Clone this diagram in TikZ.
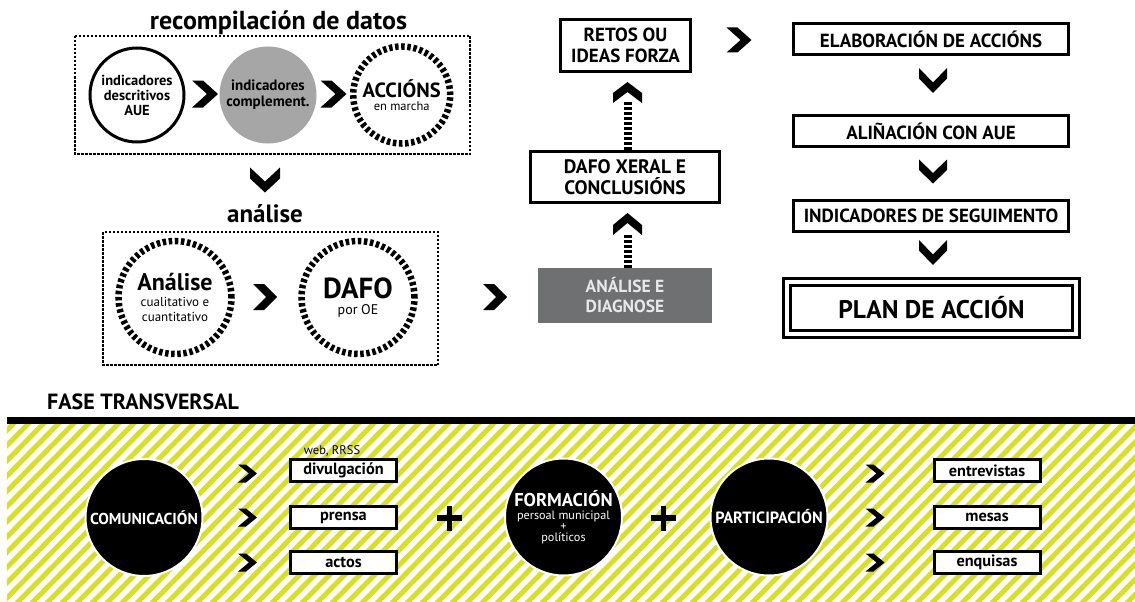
\documentclass[tikz,border=0pt]{standalone}
\usepackage{fontspec}
\setmainfont{PT Sans}
\usetikzlibrary{calc}
\definecolor{ylw}{RGB}{217,224,33}
\definecolor{cgray}{RGB}{166,166,166}
\definecolor{dgray}{RGB}{111,112,114}
\definecolor{ltxt}{RGB}{232,232,232}
% chevrons: centre x, centre y, width, height, thickness
\newcommand\chevR[5]{\fill (#1-#3/2,#2-#4/2) -- (#1-#3/2+#5,#2-#4/2) -- (#1+#3/2,#2) -- (#1-#3/2+#5,#2+#4/2) -- (#1-#3/2,#2+#4/2) -- (#1+#3/2-#5,#2) -- cycle;}
\newcommand\chevD[5]{\fill (#1-#3/2,#2-#4/2) -- (#1,#2+#4/2-#5) -- (#1+#3/2,#2-#4/2) -- (#1+#3/2,#2-#4/2+#5) -- (#1,#2+#4/2) -- (#1-#3/2,#2-#4/2+#5) -- cycle;}
\newcommand\chevU[5]{\fill (#1-#3/2,#2+#4/2) -- (#1,#2-#4/2+#5) -- (#1+#3/2,#2+#4/2) -- (#1+#3/2,#2+#4/2-#5) -- (#1,#2-#4/2) -- (#1-#3/2,#2+#4/2-#5) -- cycle;}
\begin{document}
\begin{tikzpicture}[x=1pt,y=-1pt,
  stepbox/.style={draw, line width=3pt, fill=white, inner sep=0pt, align=center,
    font=\bfseries\fontsize{19}{21}\selectfont, minimum width=275pt, minimum height=31pt},
  midbox/.style={draw, line width=3pt, fill=white, inner sep=0pt, align=center,
    font=\bfseries\fontsize{19.5}{21}\selectfont},
  dotbox/.style={draw, line width=2.5pt, dash pattern=on 2.5pt off 1.5pt},
  ringnode/.style={circle, draw, line width=6.5pt, dash pattern=on 3.5pt off 2.6pt, inner sep=0pt, align=center},
  disc/.style={circle, fill=black, draw=white, line width=2pt, inner sep=0pt, minimum size=117pt, text=white, align=center},
  smallbox/.style={draw, line width=3pt, fill=white, inner sep=0pt, minimum width=106pt, minimum height=22pt,
    font=\bfseries\fontsize{16.3}{17}\selectfont},
  shaft/.style={line width=8pt, dash pattern=on 3pt off 2pt},
  stripe/.style={ylw, line width=5pt},
  plus/.style={line width=5.5pt}
]
\useasboundingbox (0,0) rectangle (1135,602);

% ---------- titles
\node[font=\bfseries\fontsize{26}{28}\selectfont, anchor=base, inner sep=0pt] (t1) at (278.5,30) {recompilación de datos};
\node[font=\bfseries\fontsize{25}{26}\selectfont, anchor=base, inner sep=0pt] (t2) at (265,222) {análise};

% ---------- dotted frames
\draw[dotbox] (75,36) rectangle (470,154);
\draw[dotbox] (103,232) rectangle (438,365);

% ---------- recompilación circles
\node[circle, draw, line width=3pt, minimum size=94pt, inner sep=0pt, align=center,
  font=\bfseries\fontsize{14.5}{15}\selectfont] (c1) at (137,95) {indicadores\\descritivos\\AUE};
\node[circle, fill=cgray, minimum size=97pt, inner sep=0pt, align=center,
  font=\bfseries\fontsize{15}{16}\selectfont] (c2) at (268,95) {indicadores\\complement.};
\node[ringnode, minimum size=97pt, font=\fontsize{12.5}{13}\selectfont] (c3) at (401.7,95)
  {{\bfseries\fontsize{20.5}{21}\selectfont ACCIÓNS}\\en marcha};
\chevR{205}{94}{26}{27}{11}
\chevR{333.5}{94}{26}{27}{11}
\chevD{265}{180}{30}{25}{11}

% ---------- análise circles
\node[ringnode, minimum size=113pt, font=\fontsize{13}{15}\selectfont] (a1) at (175,297.5)
  {{\bfseries\fontsize{24}{24}\selectfont Análise}\\[1pt]cualitativo e\\cuantitativo};
\node[ringnode, minimum size=113pt, font=\fontsize{14}{14}\selectfont] (a2) at (358,297.5)
  {{\bfseries\fontsize{29}{28}\selectfont DAFO}\\[2pt]por OE};
\chevR{265}{297}{24}{26}{11}
\chevR{495}{297}{24}{26}{11}

% ---------- middle column
\node[fill=dgray, minimum width=174pt, minimum height=55pt, inner sep=0pt, align=center,
  text=ltxt, font=\bfseries\fontsize{17.5}{20}\selectfont] (ad) at (625,295.5) {ANÁLISE E\\DIAGNOSE};
\node[midbox, minimum width=189pt, minimum height=51pt] (dx) at (625,177) {DAFO XERAL E\\CONCLUSIÓNS};
\node[midbox, minimum width=130pt, minimum height=52pt, font=\bfseries\fontsize{19}{20.5}\selectfont] (rt) at (625.5,45.5) {RETOS OU\\IDEAS FORZA};
\draw[shaft] ($(ad.north)+(2.5,0)$) -- ($(dx.south)+(2.5,30)$);
\chevU{627.5}{224}{29}{22}{10}
\draw[shaft] ($(dx.north)+(2.5,0)$) -- ($(rt.south)+(2,29)$);
\chevU{627.5}{92.5}{29}{21}{10}
\chevR{739}{40}{25}{25}{11}

% ---------- right column
\node[stepbox] (e1) at (931,39) {ELABORACIÓN DE ACCIÓNS};
\node[stepbox] (e2) at (931,131) {ALIÑACIÓN CON AUE};
\node[stepbox] (e3) at (931,216) {INDICADORES DE SEGUIMENTO};
\node[draw, double, double distance=4pt, line width=3pt, fill=white, inner sep=0pt,
  minimum width=289pt, minimum height=52pt, font=\bfseries\fontsize{25.5}{27}\selectfont] (pl) at (931.5,308) {PLAN DE ACCIÓN};
\chevD{933}{80.5}{28}{25}{10.5}
\chevD{933}{171.5}{28}{24}{10.5}
\chevD{933}{252.5}{28}{25}{10.5}

% ---------- fase transversal
\node[font=\bfseries\fontsize{22}{24}\selectfont, anchor=base west, inner sep=0pt] (t3) at (47,409) {FASE TRANSVERSAL};
\fill (7,417) rectangle (1135,424);
\begin{scope}
  \clip (7,424) rectangle (1135,602);
  \foreach \k in {-195,-180,...,1140} {\draw[stripe] (\k,605) -- (\k+181,421);}
\end{scope}

\node[disc, font=\bfseries\fontsize{15.8}{17}\selectfont] (cm) at (144,517.5) {COMUNICACIÓN};
\node[disc, font=\fontsize{12.2}{11}\selectfont] (fm) at (563.5,517) {{\bfseries\fontsize{18.5}{18}\selectfont FORMACIÓN}\\[2pt]persoal municipal\\+\\políticos};
\node[disc, font=\bfseries\fontsize{16.3}{17}\selectfont] (pa) at (769,517) {PARTICIPACIÓN};

\node[smallbox] (b1) at (343.5,470.5) {divulgación};
\node[smallbox] (b2) at (343.5,517.5) {prensa};
\node[smallbox] (b3) at (343.5,562.5) {actos};
\node[font=\fontsize{12.5}{14}\selectfont, anchor=base, inner sep=0pt] (wb) at (332,454) {web, RRSS};
\node[smallbox] (r1) at (987,470.5) {entrevistas};
\node[smallbox] (r2) at (987,517.5) {mesas};
\node[smallbox] (r3) at (987,562.5) {enquisas};

\chevR{247.5}{473.5}{19}{18}{8}
\chevR{247.5}{517.5}{19}{18}{8}
\chevR{247.5}{562.5}{19}{18}{8}
\chevR{875}{473.5}{19}{18}{8}
\chevR{875}{517.5}{19}{18}{8}
\chevR{875}{562.5}{19}{18}{8}

\coordinate (p1) at (449.5,518);
\coordinate (p2) at (663.5,518);
\draw[plus] ($(p1)+(-12.5,0)$) -- ($(p1)+(12.5,0)$) ($(p1)+(0,-12.5)$) -- ($(p1)+(0,12.5)$);
\draw[plus] ($(p2)+(-12.5,0)$) -- ($(p2)+(12.5,0)$) ($(p2)+(0,-12.5)$) -- ($(p2)+(0,12.5)$);
\end{tikzpicture}
\end{document}
